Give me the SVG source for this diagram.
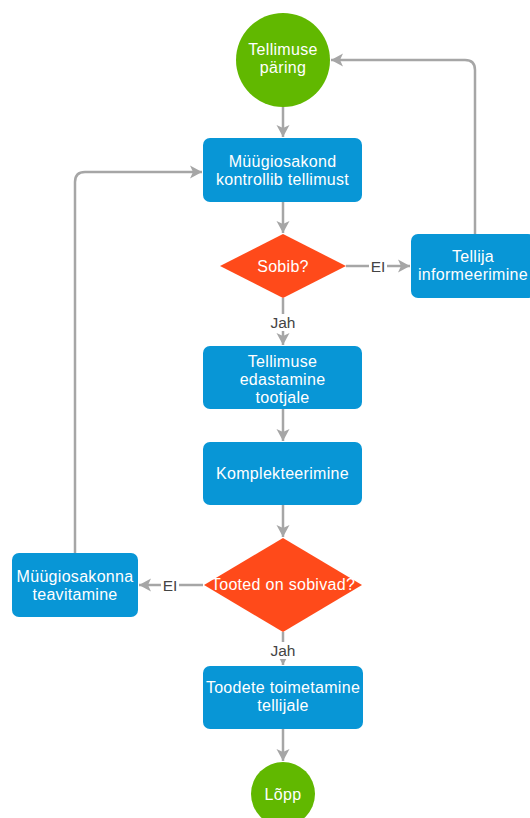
<svg xmlns="http://www.w3.org/2000/svg" width="530" height="818" viewBox="0 0 530 818">
  <defs>
    <style>
      .term { fill: #61b800; }
      .proc { fill: #0896d6; }
      .dec { fill: #ff4a1a; }
      .lbl { font-family: "Liberation Sans", Arial, sans-serif; font-size: 16px; letter-spacing: 0.3px; fill: #ffffff; text-anchor: middle; }
      .edge { fill: none; stroke: #a6a6a6; stroke-width: 2.5; stroke-linejoin: round; }
      .elbl { font-family: "Liberation Sans", Arial, sans-serif; font-size: 15.5px; fill: #444444; text-anchor: middle; }
      .lblbg { fill: #ffffff; }
    </style>
    <marker id="arrow" markerUnits="userSpaceOnUse" markerWidth="16" markerHeight="16" viewBox="0 0 16 16" refX="15" refY="8" orient="auto">
      <path d="M3,1.5 L15,8 L3,14.5 L6,8 Z" fill="#a6a6a6"/>
    </marker>
  </defs>

  <!-- connectors -->
  <g id="connectors">
    <path class="edge" d="M283,107 L283,137" marker-end="url(#arrow)"/>
    <path class="edge" d="M283,202 L283,233" marker-end="url(#arrow)"/>
    <path class="edge" d="M283,298 L283,345" marker-end="url(#arrow)"/>
    <path class="edge" d="M283,409 L283,441" marker-end="url(#arrow)"/>
    <path class="edge" d="M283,505 L283,537" marker-end="url(#arrow)"/>
    <path class="edge" d="M283,632 L283,665" marker-end="url(#arrow)"/>
    <path class="edge" d="M283,729 L283,761" marker-end="url(#arrow)"/>
    <path class="edge" d="M346,266 L410,266" marker-end="url(#arrow)"/>
    <path class="edge" d="M475,234 L475,70 Q475,60 465,60 L331,60" marker-end="url(#arrow)"/>
    <path class="edge" d="M203,585 L139,585" marker-end="url(#arrow)"/>
    <path class="edge" d="M75,553 L75,182 Q75,172 85,172 L202,172" marker-end="url(#arrow)"/>

    <rect class="lblbg" x="369" y="258" width="18" height="16"/>
    <text class="elbl" x="378" y="271.5">EI</text>
    <rect class="lblbg" x="269" y="314" width="28" height="17"/>
    <text class="elbl" x="283" y="327.5">Jah</text>
    <rect class="lblbg" x="161" y="577" width="18" height="16"/>
    <text class="elbl" x="170" y="590.5">EI</text>
    <rect class="lblbg" x="269" y="642" width="28" height="17"/>
    <text class="elbl" x="283" y="655.5">Jah</text>
  </g>

  <g id="start">
    <circle class="term" cx="283" cy="60" r="47"/>
    <text class="lbl" x="283" y="55">Tellimuse</text>
    <text class="lbl" x="283" y="73">päring</text>
  </g>

  <g id="check-order">
    <rect class="proc" x="203" y="138" width="159" height="64" rx="7"/>
    <text class="lbl" x="282.5" y="167">Müügiosakond</text>
    <text class="lbl" x="282.5" y="185">kontrollib tellimust</text>
  </g>

  <g id="fits">
    <polygon class="dec" points="283,234 346,266 283,298 220,266"/>
    <text class="lbl" x="283" y="272">Sobib?</text>
  </g>

  <g id="inform-customer">
    <rect class="proc" x="411" y="234" width="124" height="64" rx="7"/>
    <text class="lbl" x="473" y="262">Tellija</text>
    <text class="lbl" x="473" y="280">informeerimine</text>
  </g>

  <g id="forward-order">
    <rect class="proc" x="203" y="346" width="159" height="63" rx="7"/>
    <text class="lbl" x="282.5" y="367">Tellimuse</text>
    <text class="lbl" x="282.5" y="385">edastamine</text>
    <text class="lbl" x="282.5" y="403">tootjale</text>
  </g>

  <g id="picking">
    <rect class="proc" x="203" y="442" width="159" height="63" rx="7"/>
    <text class="lbl" x="282.5" y="479">Komplekteerimine</text>
  </g>

  <g id="products-ok">
    <polygon class="dec" points="283,538 362,585 283,632 204,585"/>
    <text class="lbl" x="283" y="590">Tooted on sobivad?</text>
  </g>

  <g id="notify-sales">
    <rect class="proc" x="12" y="553" width="126" height="64" rx="7"/>
    <text class="lbl" x="75" y="582">Müügiosakonna</text>
    <text class="lbl" x="75" y="600">teavitamine</text>
  </g>

  <g id="deliver">
    <rect class="proc" x="203" y="666" width="160" height="63" rx="7"/>
    <text class="lbl" x="283" y="693">Toodete toimetamine</text>
    <text class="lbl" x="283" y="711">tellijale</text>
  </g>

  <g id="end">
    <circle class="term" cx="283" cy="794" r="32"/>
    <text class="lbl" x="283" y="800">Lõpp</text>
  </g>
</svg>
